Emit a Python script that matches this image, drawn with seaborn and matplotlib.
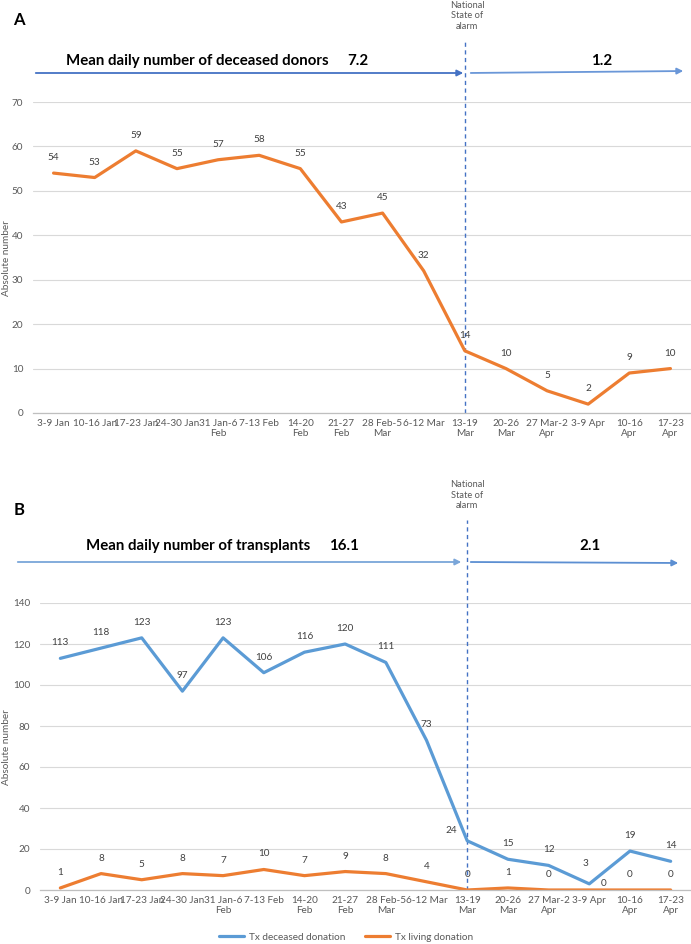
import matplotlib
matplotlib.use("Agg")
import matplotlib.pyplot as plt
import seaborn as sns
import pandas as pd
from matplotlib.patches import FancyArrowPatch
from matplotlib.lines import Line2D

# ---------------- data ----------------
weeks = ["3-9 Jan", "10-16 Jan", "17-23 Jan", "24-30 Jan", "31 Jan-6\nFeb", "7-13 Feb",
         "14-20\nFeb", "21-27\nFeb", "28 Feb-5\nMar", "6-12 Mar", "13-19\nMar", "20-26\nMar",
         "27 Mar-2\nApr", "3-9 Apr", "10-16\nApr", "17-23\nApr"]
deceased_donors = [54, 53, 59, 55, 57, 58, 55, 43, 45, 32, 14, 10, 5, 2, 9, 10]
tx_deceased = [113, 118, 123, 97, 123, 106, 116, 120, 111, 73, 24, 15, 12, 3, 19, 14]
tx_living = [1, 8, 5, 8, 7, 10, 7, 9, 8, 4, 0, 1, 0, 0, 0, 0]
series_names = ["Tx deceased donation", "Tx living donation"]
yticks_a = [0, 10, 20, 30, 40, 50, 60, 70]
yticks_b = [0, 20, 40, 60, 80, 100, 120, 140]
title_a = "Mean daily number of deceased donors"
title_b = "Mean daily number of transplants"
mean_a = ["7.2", "1.2"]
mean_b = ["16.1", "2.1"]
event_label = "National\nState of\nalarm"
ylabel = "Absolute number"
event_index = 10

BLUE = "#5B9BD5"
ORANGE = "#ED7D31"
ARROW = "#4472C4"
GRID = "#D9D9D9"
TXT = "#595959"
LBL = "#404040"

sns.set_theme(style="white")
plt.rcParams["font.family"] = ["Lato", "DejaVu Sans"]

W, H = 691, 944
fig = plt.figure(figsize=(W / 100, H / 100), dpi=100)


def fx(px):
    return px / W


def fy(py):
    return 1 - py / H


def make_axes(left, right, y0, ytop):
    return fig.add_axes([fx(left), fy(y0), fx(right) - fx(left), fy(ytop) - fy(y0)])


axA = make_axes(33, 691, 413, 102)
axB = make_axes(40, 691, 890, 603)

dfA = pd.DataFrame({"week": range(len(weeks)), "value": deceased_donors})
dfB = pd.DataFrame({
    "week": list(range(len(weeks))) * 2,
    "value": tx_deceased + tx_living,
    "series": [series_names[0]] * len(weeks) + [series_names[1]] * len(weeks),
})

sns.lineplot(data=dfA, x="week", y="value", ax=axA, color=ORANGE, linewidth=2.3)
sns.lineplot(data=dfB, x="week", y="value", hue="series", ax=axB,
             palette=[BLUE, ORANGE], linewidth=2.3, legend=False)


def style_axes(ax, ticks):
    ax.set_xlim(-0.5, len(weeks) - 0.5)
    ax.set_ylim(ticks[0], ticks[-1])
    ax.set_yticks(ticks)
    ax.set_yticklabels([str(t) for t in ticks], fontsize=7.2, color=TXT)
    ax.set_xticks(range(len(weeks)))
    ax.set_xticklabels(weeks, fontsize=7.2, color=TXT, linespacing=1.2, va="top")
    ax.tick_params(axis="both", length=0, pad=4)
    ax.tick_params(axis="y", pad=7)
    for s in ["top", "right", "left"]:
        ax.spines[s].set_visible(False)
    ax.spines["bottom"].set_color("#BFBFBF")
    ax.spines["bottom"].set_linewidth(0.9)
    ax.grid(axis="y", color=GRID, linewidth=0.8)
    ax.set_axisbelow(True)
    ax.set_xlabel("")
    ax.set_ylabel("")


style_axes(axA, yticks_a)
style_axes(axB, yticks_b)

fig.text(fx(7), fy(258), ylabel, rotation=90, fontsize=7.2, color=TXT, ha="center", va="center")
fig.text(fx(7), fy(747), ylabel, rotation=90, fontsize=7.2, color=TXT, ha="center", va="center")

# dashed event lines
axA.vlines(event_index, 0, (413 - 42) / ((413 - 102) / 70), colors=ARROW,
           linestyles=(0, (3, 2.5)), linewidth=1.0, clip_on=False, zorder=1)
axB.vlines(event_index, 0, (890 - 520) / ((890 - 603) / 140), colors=ARROW,
           linestyles=(0, (3, 2.5)), linewidth=1.0, clip_on=False, zorder=1)


# data labels
def label(ax, i, v, dx=0, dy=11):
    ax.annotate(str(v), (i, v), xytext=(dx, dy), textcoords="offset pixels",
                ha="center", va="bottom", fontsize=7.2, color=LBL)


for i, v in enumerate(deceased_donors):
    label(axA, i, v)

for i, v in enumerate(tx_deceased):
    dx, dy = 0, 11
    if i == event_index:
        dx, dy = -16, 6
    if i == 13:
        dx, dy = -4, 16
    label(axB, i, v, dx, dy)

for i, v in enumerate(tx_living):
    dx, dy = 0, 11
    if i == 13:
        dx, dy = 14, 2
    label(axB, i, v, dx, dy)


# arrows and header texts
def arrow(x0, y0, x1, y1, color):
    a = FancyArrowPatch((fx(x0), fy(y0)), (fx(x1), fy(y1)), transform=fig.transFigure,
                        arrowstyle="-|>", mutation_scale=9, color=color, linewidth=1.3)
    fig.add_artist(a)


arrow(33, 73, 466, 73, ARROW)
arrow(468, 73, 686, 71, "#6A97D8")
arrow(15, 562, 464, 562, "#7AA6D9")
arrow(468, 562, 681, 563, "#5C8FD2")

TS = 10.8
fig.text(fx(66), fy(61), title_a, fontsize=TS, fontweight="bold", color="black", va="center")
fig.text(fx(358), fy(61), mean_a[0], fontsize=TS, fontweight="bold", color="black", va="center", ha="center")
fig.text(fx(602), fy(61), mean_a[1], fontsize=TS, fontweight="bold", color="black", va="center", ha="center")
fig.text(fx(86), fy(546), title_b, fontsize=TS, fontweight="bold", color="black", va="center")
fig.text(fx(344), fy(546), mean_b[0], fontsize=TS, fontweight="bold", color="black", va="center", ha="center")
fig.text(fx(590), fy(546), mean_b[1], fontsize=TS, fontweight="bold", color="black", va="center", ha="center")

fig.text(fx(467), fy(16), event_label, fontsize=6.7, color=TXT, ha="center", va="center", linespacing=1.2)
fig.text(fx(467), fy(495), event_label, fontsize=6.7, color=TXT, ha="center", va="center", linespacing=1.2)

fig.text(fx(19), fy(20), "A", fontsize=12, fontweight="bold", color="black", ha="center", va="center")
fig.text(fx(19), fy(510), "B", fontsize=12, fontweight="bold", color="black", ha="center", va="center")

# legend
handles = [Line2D([], [], color=BLUE, linewidth=2.3), Line2D([], [], color=ORANGE, linewidth=2.3)]
fig.legend(handles, series_names, loc="center", bbox_to_anchor=(fx(346), fy(937)), ncol=2,
           frameon=False, fontsize=7.2, handlelength=2.5, columnspacing=2.0,
           labelcolor=TXT, handletextpad=0.5)

fig.savefig("out.png", dpi=100)
